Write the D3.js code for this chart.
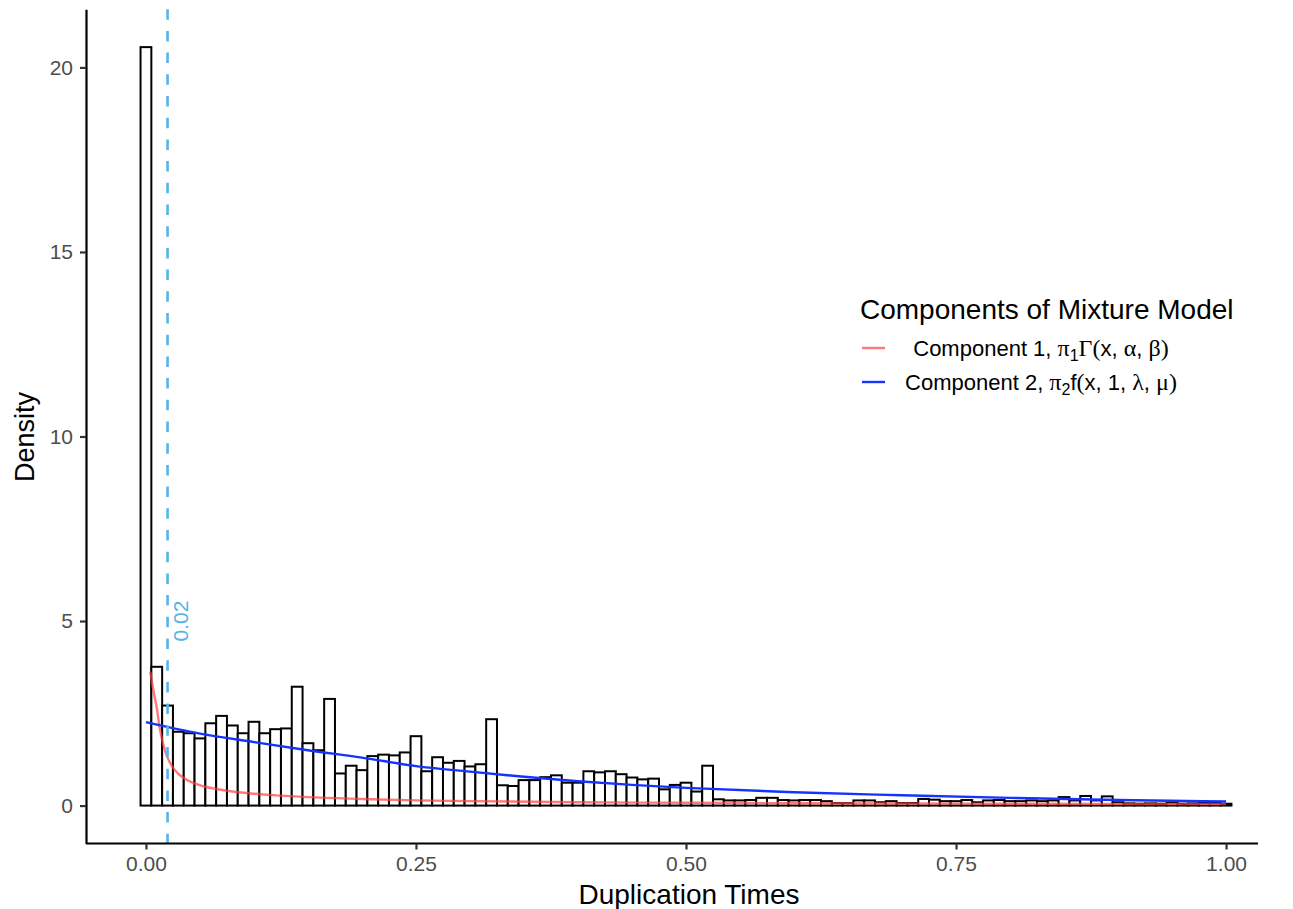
<!DOCTYPE html>
<html>
<head>
<meta charset="utf-8">
<script src="https://cdn.jsdelivr.net/npm/d3@7"></script>
<style>
  html, body { margin: 0; padding: 0; background: #fff; }
  svg { display: block; }
  text { font-family: "Liberation Sans", Arial, Helvetica, sans-serif; }
</style>
</head>
<body>
<svg id="chart" width="1293" height="909"></svg>
<script>
// Histogram of duplication times (bin width 0.01, bins centred on multiples of 0.01)
const binWidth = 0.01;
const density = [
  20.55, 3.76, 2.71, 2.00, 1.96, 1.82, 2.23, 2.43, 2.17, 1.96,
  2.27, 1.96, 2.07, 2.09, 3.22, 1.69, 1.50, 2.89, 0.87, 1.08,
  0.96, 1.34, 1.38, 1.36, 1.44, 1.88, 0.93, 1.31, 1.16, 1.21,
  1.06, 1.12, 2.34, 0.55, 0.53, 0.69, 0.69, 0.77, 0.82, 0.62,
  0.62, 0.93, 0.90, 0.93, 0.85, 0.76, 0.71, 0.73, 0.44, 0.56,
  0.62, 0.38, 1.08, 0.17, 0.14, 0.14, 0.15, 0.21, 0.21, 0.15,
  0.14, 0.15, 0.15, 0.12, 0.07, 0.07, 0.14, 0.14, 0.09, 0.12,
  0.07, 0.07, 0.18, 0.16, 0.12, 0.12, 0.15, 0.09, 0.14, 0.15,
  0.12, 0.12, 0.14, 0.12, 0.14, 0.23, 0.14, 0.26, 0.14, 0.25,
  0.09, 0.06, 0.05, 0.06, 0.05, 0.08, 0.05, 0.06, 0.07, 0.07,
  0.05
];

// Component 1 (gamma) density curve, sampled points
const comp1X = [0.004, 0.007, 0.010, 0.0125, 0.015, 0.0175, 0.020, 0.025, 0.030, 0.035, 0.045, 0.055, 0.065, 0.080, 0.100, 0.125, 0.150, 0.200, 0.250, 0.300, 0.400, 0.500, 0.600, 0.700, 0.800, 0.900, 1.000];
const comp1Y = [3.63, 3.10, 2.65, 2.15, 1.78, 1.50, 1.30, 1.03, 0.86, 0.75, 0.60, 0.51, 0.45, 0.38, 0.32, 0.27, 0.23, 0.18, 0.14, 0.12, 0.09, 0.075, 0.065, 0.057, 0.050, 0.045, 0.040];

// Component 2 density curve, sampled points
const comp2X = [0.00, 0.05, 0.10, 0.15, 0.20, 0.25, 0.30, 0.35, 0.40, 0.45, 0.50, 0.60, 0.70, 0.80, 0.90, 1.00];
const comp2Y = [2.26, 1.95, 1.72, 1.50, 1.30, 1.07, 0.92, 0.78, 0.66, 0.56, 0.48, 0.36, 0.28, 0.21, 0.15, 0.11];

// Threshold marker
const cutoff = 0.02;
const cutoffLabel = "0.02";

const xTicks = [0, 0.25, 0.5, 0.75, 1.0];
const xTickLabels = ["0.00", "0.25", "0.50", "0.75", "1.00"];
const yTicks = [0, 5, 10, 15, 20];
const yTickLabels = ["0", "5", "10", "15", "20"];

const legendTitle = "Components of Mixture Model";

const svg = d3.select("#chart");

const panel = { left: 86, right: 1286, top: 9.2, bottom: 843.5, axisEnd: 1258 };

const xMin = -binWidth / 2, xMax = (density.length - 1) * binWidth + binWidth / 2;
const xPad = 0.05 * (xMax - xMin);
const x = d3.scaleLinear().domain([xMin - xPad, xMax + xPad]).range([panel.left, panel.right]);

const yMaxData = d3.max(density);
const yPad = 0.05 * yMaxData;
const y = d3.scaleLinear().domain([-yPad, yMaxData + yPad]).range([panel.bottom, panel.top]);

// Bars
svg.append("g")
  .selectAll("rect")
  .data(density)
  .join("rect")
  .attr("x", (d, i) => x(i * binWidth - binWidth / 2))
  .attr("width", (d, i) => x(i * binWidth + binWidth / 2) - x(i * binWidth - binWidth / 2))
  .attr("y", d => y(d))
  .attr("height", d => y(0) - y(d))
  .attr("fill", "#ffffff")
  .attr("stroke", "#000000")
  .attr("stroke-width", 2);

// Density curves
const line = d3.line().x(d => x(d[0])).y(d => y(d[1])).curve(d3.curveMonotoneX);

svg.append("path")
  .datum(comp1X.map((v, i) => [v, comp1Y[i]]))
  .attr("d", line)
  .attr("fill", "none")
  .attr("stroke", "#ff4040")
  .attr("stroke-opacity", 0.7)
  .attr("stroke-width", 2.4);

svg.append("path")
  .datum(comp2X.map((v, i) => [v, comp2Y[i]]))
  .attr("d", line)
  .attr("fill", "none")
  .attr("stroke", "#1433ff")
  .attr("stroke-width", 2.4);

// Dashed cutoff line
svg.append("line")
  .attr("x1", x(cutoff)).attr("x2", x(cutoff))
  .attr("y1", panel.top).attr("y2", panel.bottom)
  .attr("stroke", "#56B4E9")
  .attr("stroke-width", 2.6)
  .attr("stroke-dasharray", "10.5,11.2");

svg.append("text")
  .attr("transform", `translate(${x(cutoff) + 20},${y(5)}) rotate(-90)`)
  .attr("text-anchor", "middle")
  .attr("fill", "#56B4E9")
  .attr("font-size", 21)
  .text(cutoffLabel);

// Axes
const xAxis = d3.axisBottom(x).tickValues(xTicks).tickFormat((d, i) => xTickLabels[i])
  .tickSize(6).tickSizeOuter(0).tickPadding(7);
const gx = svg.append("g").attr("transform", `translate(0,${panel.bottom})`).call(xAxis);
gx.select(".domain").attr("d", `M${panel.left},0H${panel.axisEnd}`).attr("stroke", "#000").attr("stroke-width", 2.2);
gx.selectAll(".tick line").attr("stroke", "#333").attr("stroke-width", 2.2);
gx.selectAll(".tick text").attr("fill", "#4D4D4D").attr("font-size", 21).attr("font-family", "Liberation Sans, Arial, sans-serif");

const yAxis = d3.axisLeft(y).tickValues(yTicks).tickFormat((d, i) => yTickLabels[i])
  .tickSize(6).tickSizeOuter(0).tickPadding(7);
const gy = svg.append("g").attr("transform", `translate(${panel.left},0)`).call(yAxis);
gy.select(".domain").attr("stroke", "#000").attr("stroke-width", 2.2);
gy.selectAll(".tick line").attr("stroke", "#333").attr("stroke-width", 2.2);
gy.selectAll(".tick text").attr("fill", "#4D4D4D").attr("font-size", 21).attr("font-family", "Liberation Sans, Arial, sans-serif");

// Axis titles
svg.append("text")
  .attr("x", 689)
  .attr("y", 904)
  .attr("text-anchor", "middle")
  .attr("font-size", 28)
  .attr("fill", "#000")
  .text("Duplication Times");

svg.append("text")
  .attr("transform", `translate(34,437) rotate(-90)`)
  .attr("text-anchor", "middle")
  .attr("font-size", 27)
  .attr("fill", "#000")
  .text("Density");

// Legend
const legend = svg.append("g");
legend.append("text")
  .attr("x", 860).attr("y", 319)
  .attr("font-size", 28)
  .attr("fill", "#000")
  .text(legendTitle);

const serif = "Liberation Serif, DejaVu Serif, serif";
const legendItems = [
  { color: "#ff4040", opacity: 0.7, parts: [
    ["Component 1, ", null], ["π", serif], ["1", "sub"], ["Γ", serif], ["(", serif],
    ["x, ", null], ["α", serif], [", ", null], ["β", serif], [")", serif]
  ]},
  { color: "#1433ff", opacity: 1, parts: [
    ["Component 2, ", null], ["π", serif], ["2", "sub"], ["f", null], ["(", serif],
    ["x, 1, ", null], ["λ", serif], [", ", null], ["μ", serif], [")", serif]
  ]}
];
const itemY = [348, 382];
legendItems.forEach((item, k) => {
  legend.append("line")
    .attr("x1", 862).attr("x2", 885)
    .attr("y1", itemY[k]).attr("y2", itemY[k])
    .attr("stroke", item.color)
    .attr("stroke-opacity", item.opacity)
    .attr("stroke-width", 2.4);
  const t = legend.append("text")
    .attr("x", 1041).attr("y", itemY[k] + 8)
    .attr("text-anchor", "middle")
    .attr("font-size", 22)
    .attr("fill", "#000");
  item.parts.forEach(([s, f], i) => {
    const ts = t.append("tspan").text(s);
    if (f === "sub") {
      ts.attr("font-size", 16).attr("dy", 5);
    } else {
      if (f) ts.attr("font-family", f).attr("font-size", 24);
      if (i > 0 && item.parts[i - 1][1] === "sub") ts.attr("dy", -5);
    }
  });
});
</script>
</body>
</html>
